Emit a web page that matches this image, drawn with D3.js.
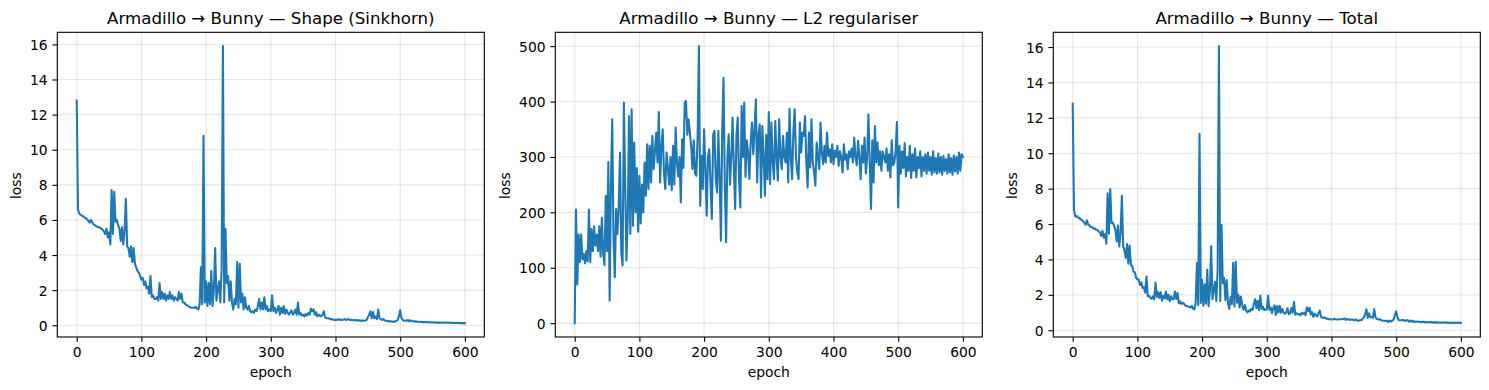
<!DOCTYPE html>
<html><head><meta charset="utf-8">
<script src="https://cdn.jsdelivr.net/npm/d3@7"></script>
<style>
body{margin:0;background:#fff}
svg{display:block}
text{font-family:"DejaVu Sans",sans-serif;fill:#000}
</style>
</head><body>
<svg id="c" width="1489" height="390"></svg>
<script>
// epochs sampled every 2 steps, 0..600
const epochs = d3.range(0, 601, 2);

const shapeLoss = [
12.8,6.6,6.35,6.3,6.25,6.2,6.15,6.1,6.05,5.95,5.85,6.0,5.85,5.75,5.7,5.65,5.6,5.6,5.55,5.5,5.45,5.35,5.2,5.5,5.0,5.3,4.6,7.7,5.2,7.6,5.9,6.0,5.7,5.5,4.8,5.6,4.6,5.4,7.2,4.5,4.4,3.9,4.5,3.6,4.4,3.5,3.3,3.1,3.0,2.8,2.6,
2.7,2.3,2.5,2.1,2.2,1.8,2.8,1.6,1.7,1.5,1.5,1.6,1.4,2.4,1.5,1.9,1.5,1.8,1.4,1.7,1.5,1.9,1.5,1.7,1.4,1.6,1.5,1.4,1.9,1.5,1.8,1.3,1.3,1.2,1.15,1.1,1.05,1.0,1.0,1.0,1.0,1.05,0.95,0.9,1.2,3.3,1.2,10.8,1.3,2.5,
1.1,2.4,1.2,3.1,1.1,2.0,4.4,1.4,2.0,2.5,1.3,3.2,15.9,1.3,5.5,2.4,2.8,1.4,2.5,1.3,0.9,1.5,1.2,3.6,1.0,3.5,1.3,1.8,0.9,1.6,1.0,0.9,1.1,0.8,0.75,0.8,0.7,0.9,0.8,1.1,1.5,0.9,1.3,0.9,1.6,0.9,1.1,0.8,0.9,0.8,
1.7,0.8,1.0,0.7,0.9,1.1,0.6,1.0,0.7,1.1,0.65,0.9,0.7,0.6,0.75,0.85,0.6,0.7,0.9,0.6,1.3,0.6,0.7,0.55,0.6,0.5,0.65,0.55,0.7,0.6,0.95,0.8,0.9,0.6,0.75,0.5,0.6,0.55,0.5,0.6,0.8,0.45,0.4,0.4,0.38,0.35,0.35,0.33,0.3,0.32,
0.3,0.35,0.3,0.33,0.3,0.32,0.35,0.3,0.33,0.36,0.3,0.32,0.3,0.28,0.3,0.27,0.3,0.26,0.28,0.25,0.27,0.25,0.27,0.3,0.45,0.6,0.8,0.4,0.75,0.4,0.5,0.35,0.9,0.4,0.35,0.3,0.35,0.28,0.25,0.25,0.22,0.24,0.22,0.2,0.22,0.2,0.25,0.3,0.5,0.85,
0.4,0.3,0.25,0.28,0.25,0.3,0.22,0.28,0.25,0.22,0.24,0.2,0.22,0.2,0.19,0.2,0.18,0.19,0.18,0.17,0.18,0.17,0.16,0.17,0.16,0.17,0.16,0.15,0.16,0.15,0.16,0.15,0.14,0.15,0.14,0.15,0.14,0.15,0.14,0.13,0.14,0.13,0.14,0.13,0.14,0.13,0.12,0.13,0.12,0.12
];

const l2Loss = [
0,205,70,160,110,160,115,125,108,130,112,205,110,170,130,175,140,160,130,175,120,190,125,105,230,130,291,41,250,368,150,83,206,161,210,308,130,104,398,250,113,191,374,161,386,176,326,200,280,165,266,
180,250,200,290,230,323,242,320,254,338,278,310,344,290,381,254,320,350,270,242,308,280,250,300,240,320,250,353,290,265,300,218,332,280,398,401,340,368,344,320,278,330,270,266,338,500,212,302,242,350,
280,194,300,314,250,188,340,347,260,236,347,260,149,350,443,250,146,300,341,250,300,371,280,206,340,371,260,209,392,300,398,264,330,310,260,326,362,305,350,404,254,340,359,227,356,300,230,340,260,381,
251,362,290,260,365,300,257,368,300,278,338,300,290,344,254,387,300,260,347,386,300,272,260,362,308,344,338,374,290,245,344,281,368,290,272,248,326,300,278,362,308,287,320,290,344,302,314,290,323,287,
311,300,320,284,310,300,272,323,295,305,278,310,300,315,290,335,300,285,329,300,260,320,290,335,270,300,377,290,206,330,254,356,290,326,285,310,275,310,300,290,315,275,305,263,330,285,290,310,363,209,
320,270,310,280,325,265,300,275,320,262,305,275,315,263,300,280,310,265,300,275,305,270,308,275,300,268,310,272,298,270,306,272,300,268,302,275,296,270,305,272,298,268,303,274,300,270,308,275,305,300
];

const totalLoss = [
12.80,6.81,6.42,6.46,6.36,6.36,6.27,6.23,6.16,6.08,5.96,6.21,5.96,5.92,5.83,5.83,5.74,5.76,5.68,5.68,5.57,5.54,5.33,5.61,5.23,5.43,4.89,7.74,5.45,7.97,6.05,6.08,5.91,5.66,5.01,5.91,4.73,5.50,7.60,4.75,4.51,4.09,4.87,3.76,4.79,3.68,3.63,3.30,3.28,2.97,2.87,
2.88,2.55,2.70,2.39,2.43,2.12,3.04,1.92,1.95,1.84,1.78,1.91,1.74,2.69,1.88,2.15,1.82,2.15,1.67,1.94,1.81,2.18,1.75,2.00,1.64,1.92,1.75,1.75,2.19,1.77,2.10,1.52,1.63,1.48,1.55,1.50,1.39,1.37,1.34,1.32,1.28,1.38,1.22,1.17,1.54,3.80,1.41,11.10,1.54,2.85,
1.38,2.59,1.50,3.41,1.35,2.19,4.74,1.75,2.26,2.74,1.65,3.46,16.05,1.65,5.94,2.65,2.95,1.70,2.84,1.55,1.20,1.87,1.48,3.81,1.34,3.87,1.56,2.01,1.29,1.90,1.40,1.16,1.43,1.11,1.01,1.13,1.06,1.21,1.15,1.50,1.75,1.24,1.66,1.13,1.96,1.20,1.33,1.14,1.16,1.18,
1.95,1.16,1.29,0.96,1.27,1.40,0.86,1.37,1.00,1.38,0.99,1.20,0.99,0.94,1.00,1.24,0.90,0.96,1.25,0.99,1.60,0.87,0.96,0.91,0.91,0.84,0.99,0.92,0.99,0.85,1.29,1.08,1.27,0.89,1.02,0.75,0.93,0.85,0.78,0.96,1.11,0.74,0.72,0.69,0.72,0.65,0.66,0.62,0.62,0.61,
0.61,0.65,0.62,0.61,0.61,0.62,0.62,0.62,0.63,0.67,0.58,0.63,0.60,0.60,0.59,0.61,0.60,0.55,0.61,0.55,0.53,0.57,0.56,0.64,0.72,0.90,1.18,0.69,0.96,0.73,0.75,0.71,1.19,0.73,0.64,0.61,0.63,0.59,0.55,0.54,0.54,0.52,0.53,0.46,0.55,0.49,0.54,0.61,0.86,1.06,
0.72,0.57,0.56,0.56,0.58,0.57,0.52,0.56,0.57,0.48,0.55,0.48,0.54,0.46,0.49,0.48,0.49,0.46,0.48,0.45,0.49,0.44,0.47,0.45,0.46,0.44,0.47,0.42,0.46,0.42,0.47,0.42,0.44,0.42,0.44,0.43,0.44,0.42,0.45,0.40,0.44,0.40,0.44,0.40,0.44,0.40,0.43,0.41,0.43,0.42
];

const xTicks = [0,100,200,300,400,500,600];
const yTicksShape = [0,2,4,6,8,10,12,14,16];
const yTicksL2 = [0,100,200,300,400,500];
const yTicksTotal = [0,2,4,6,8,10,12,14,16];
const titles = ["Armadillo \u2192 Bunny \u2014 Shape (Sinkhorn)", "Armadillo \u2192 Bunny \u2014 L2 regulariser", "Armadillo \u2192 Bunny \u2014 Total"];
const xLabel = "epoch";
const yLabel = "loss";

const panelLefts = [57.3, 555.3, 1053.3];
const axW = 427, axTop = 32.3, axBottom = 337;
const seriesList = [shapeLoss, l2Loss, totalLoss];
const yTickList = [yTicksShape, yTicksL2, yTicksTotal];

const svg = d3.select("#c");
const fsTick = 13.89, fsTitle = 16.67;
const lw = 1.11;

seriesList.forEach((vals, p) => {
  const left = panelLefts[p];
  const g = svg.append("g");
  const xr = d3.extent(epochs), yr = d3.extent(vals);
  const xp = (xr[1]-xr[0])*0.05, yp = (yr[1]-yr[0])*0.05;
  const x = d3.scaleLinear().domain([xr[0]-xp, xr[1]+xp]).range([left, left+axW]);
  const y = d3.scaleLinear().domain([yr[0]-yp, yr[1]+yp]).range([axBottom, axTop]);

  // grid
  g.append("g").selectAll("line").data(xTicks).join("line")
    .attr("x1", d=>x(d)).attr("x2", d=>x(d)).attr("y1", axTop).attr("y2", axBottom)
    .attr("stroke", "#b0b0b0").attr("stroke-opacity", 0.3).attr("stroke-width", lw);
  g.append("g").selectAll("line").data(yTickList[p]).join("line")
    .attr("y1", d=>y(d)).attr("y2", d=>y(d)).attr("x1", left).attr("x2", left+axW)
    .attr("stroke", "#b0b0b0").attr("stroke-opacity", 0.3).attr("stroke-width", lw);

  // line
  const line = d3.line().x((d,i)=>x(epochs[i])).y(d=>y(d));
  g.append("path").datum(vals).attr("d", line)
    .attr("fill","none").attr("stroke","#1f77b4").attr("stroke-width",2.08)
    .attr("stroke-linejoin","round").attr("stroke-linecap","square");

  // axes via d3
  const xAxis = d3.axisBottom(x).tickValues(xTicks).tickSize(4.86).tickPadding(4.86).tickFormat(d3.format("d"));
  const yAxis = d3.axisLeft(y).tickValues(yTickList[p]).tickSize(4.86).tickPadding(4.86).tickFormat(d3.format("d"));
  const gx = g.append("g").attr("transform", `translate(0,${axBottom})`).call(xAxis);
  const gy = g.append("g").attr("transform", `translate(${left},0)`).call(yAxis);
  [gx, gy].forEach(a => {
    a.select(".domain").remove();
    a.selectAll(".tick line").attr("stroke","#000").attr("stroke-width",lw);
    a.selectAll(".tick text").attr("font-size", fsTick).attr("font-family","DejaVu Sans").attr("fill","#000");
  });
  gx.selectAll(".tick text").attr("dy", null).attr("y", 9.72 + 10.1);
  gy.selectAll(".tick text").attr("dy", "0.36em");

  // spines
  g.append("rect").attr("x", left).attr("y", axTop).attr("width", axW).attr("height", axBottom-axTop)
    .attr("fill","none").attr("stroke","#000").attr("stroke-width",lw);

  // title
  g.append("text").attr("x", left+axW/2).attr("y", axTop-8.8).attr("text-anchor","middle")
    .attr("font-size", fsTitle).text(titles[p]);
  // xlabel
  g.append("text").attr("x", left+axW/2).attr("y", 376.5).attr("text-anchor","middle")
    .attr("font-size", fsTick).text(xLabel);
  // ylabel
  let maxW = 0;
  gy.selectAll(".tick text").each(function(){ maxW = Math.max(maxW, this.getBBox().width); });
  const lx = left - 9.72 - maxW - 5.56 - 3.3;
  g.append("text").attr("transform", `translate(${lx},${(axTop+axBottom)/2 + 1}) rotate(-90)`)
    .attr("text-anchor","middle").attr("font-size", fsTick).text(yLabel);
});
</script>
</body></html>
